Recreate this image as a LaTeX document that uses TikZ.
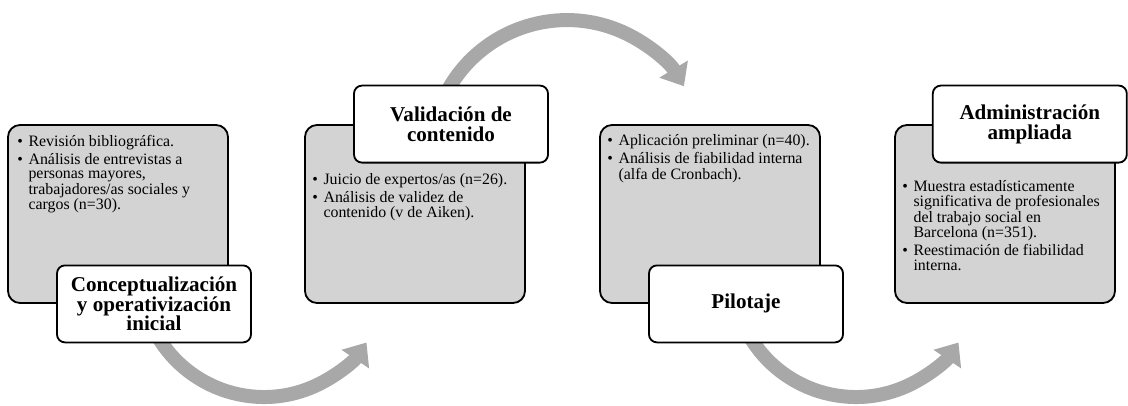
\documentclass[tikz,border=0pt]{standalone}
\usepackage{fontspec}
\setmainfont{Liberation Serif}
\usetikzlibrary{positioning,calc,arrows.meta}

\definecolor{boxgray}{RGB}{211,211,211}
\definecolor{arrowgray}{RGB}{168,168,168}

\tikzset{
	stagebox/.style={draw=black, line width=1.3pt, fill=boxgray, rounded corners=0.3cm, minimum width=5.5cm, minimum height=4.45cm},
	stagelabel/.style={draw=black, line width=1.3pt, fill=white, rounded corners=0.2cm, minimum width=4.85cm, minimum height=1.925cm, align=center, inner sep=2pt, font=\fontsize{15}{14}\selectfont\bfseries},
	itemtext/.style={anchor=north west, inner sep=0pt, font=\fontsize{11.3}{10}\selectfont},
	flowarrow/.style={draw=arrowgray, line width=0.35cm, -{Triangle[length=0.5cm, width=0.8cm]}}
}
\newcommand{\stagelist}[1]{\begin{tabular}{@{}l@{\hspace{4pt}}l@{}}#1\end{tabular}}

\begin{document}
\begin{tikzpicture}
			\useasboundingbox (0,0) rectangle (28.2,10.125);
			\coordinate (arcA) at (6.6,3.29);
			\coordinate (arcB) at (14.175,6.2125);
			\coordinate (arcC) at (21.4,3.29);
			\draw[flowarrow] ([shift={(205:3.09)}]arcA) arc[start angle=205, end angle=326, radius=3.09cm];
			\draw[flowarrow] ([shift={(155:3.41)}]arcB) arc[start angle=155, end angle=31, radius=3.41cm];
			\draw[flowarrow] ([shift={(205:3.09)}]arcC) arc[start angle=205, end angle=326, radius=3.09cm];
			\node[stagebox] (concept) at (2.95,4.775) {};
			\node[stagebox] (valid) at (10.375,4.775) {};
			\node[stagebox] (pilot) at (17.75,4.775) {};
			\node[stagebox] (admin) at (25.125,4.775) {};
			\node[itemtext] (conceptlist) at ($(concept.north west)+(0.25,-0.28)$) {\stagelist{%
				\textbullet & Revisión bibliográfica.\\[2pt]
				\textbullet & Análisis de entrevistas a\\
				& personas mayores,\\
				& trabajadores/as sociales y\\
				& cargos (n=30).}};
			\node[itemtext] (validlist) at ($(valid.north west)+(0.2,-1.22)$) {\stagelist{%
				\textbullet & Juicio de expertos/as (n=26).\\[2pt]
				\textbullet & Análisis de validez de\\
				& contenido (v de Aiken).}};
			\node[itemtext] (pilotlist) at ($(pilot.north west)+(0.2,-0.25)$) {\stagelist{%
				\textbullet & Aplicación preliminar (n=40).\\[2pt]
				\textbullet & Análisis de fiabilidad interna\\
				& (alfa de Cronbach).}};
			\node[itemtext] (adminlist) at ($(admin.north west)+(0.2,-1.4)$) {\stagelist{%
				\textbullet & Muestra estadísticamente\\
				& significativa de profesionales\\
				& del trabajo social en\\
				& Barcelona (n=351).\\[2pt]
				\textbullet & Reestimación de fiabilidad\\
				& interna.}};
			\node[stagelabel] (conceptlabel) at ($(concept.south)+(0.9,0)$) {Conceptualización\\y operativización\\inicial};
			\node[stagelabel] (validlabel) at ($(valid.north)+(0.9,0)$) {Validación de\\contenido};
			\node[stagelabel] (pilotlabel) at ($(pilot.south)+(0.9,0)$) {Pilotaje};
			\node[stagelabel] (adminlabel) at ($(admin.north)+(0.62,0)$) {Administración\\ampliada};
\end{tikzpicture}
\end{document}
